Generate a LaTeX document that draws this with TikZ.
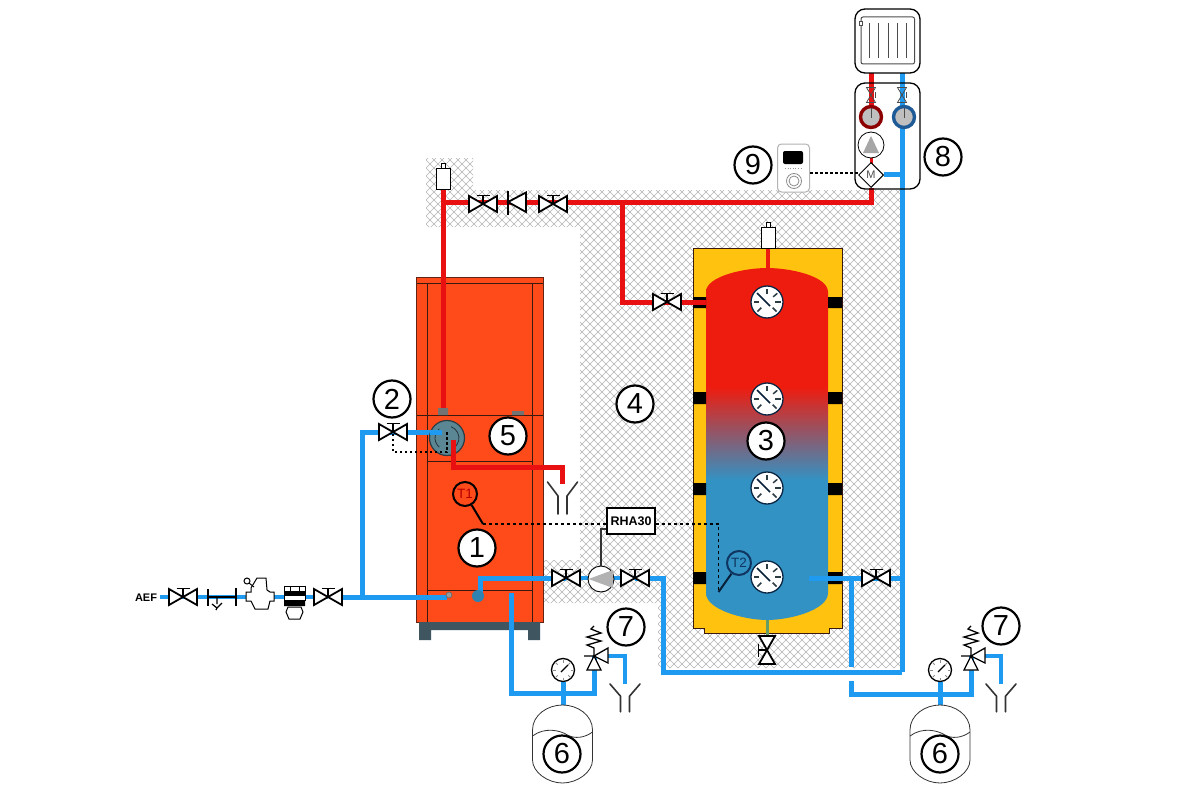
\documentclass[tikz,border=0pt]{standalone}
\usepackage{fontspec}
\setmainfont{Liberation Sans}
\usetikzlibrary{calc,shapes.geometric}
\definecolor{pipeblue}{HTML}{1E9BF0}
\definecolor{pipered}{HTML}{E81010}
\definecolor{boiler}{HTML}{FF4A1A}
\definecolor{boilerline}{HTML}{3A1A10}
\definecolor{feet}{HTML}{3F5560}
\definecolor{insul}{HTML}{FFC20E}
\definecolor{tred}{HTML}{EE1C0F}
\definecolor{tblue}{HTML}{3392C4}
\definecolor{hatchc}{HTML}{B4B4B4}
\definecolor{navy}{HTML}{0F3560}
\definecolor{ringblue}{HTML}{1E5A96}
\definecolor{circul}{HTML}{5B8794}
\pgfdeclareverticalshading{tankshade}{100bp}{color(0bp)=(tblue); color(44.9bp)=(tblue); color(58.1bp)=(tred); color(100bp)=(tred)}
\tikzset{
  x=1pt,y=-1pt,
  blue pipe/.style={draw=pipeblue,line width=5pt,line join=miter},
  blue thin/.style={draw=pipeblue,line width=3.5pt},
  red pipe/.style={draw=pipered,line width=5pt},
  sym/.style={draw=black,line width=1.8pt,line join=miter},
  num/.style={circle,draw=black,line width=2.2pt,fill=white,minimum size=37pt,inner sep=0pt,font=\fontsize{29}{29}\selectfont},
  dotline/.style={draw=black,line width=2pt,dash pattern=on 2.5pt off 2.5pt},
  dashline/.style={draw=black,line width=1.1pt,dash pattern=on 3pt off 3pt},
  hvalve/.pic={\draw[sym,fill=white] (-14,-8)--(14,8)--(14,-8)--(-14,8)--cycle;
    \draw[sym] (0,0)--(0,-8.5) (-6.5,-8.5)--(6.5,-8.5);},
  tinyvalve/.pic={\draw[draw=black!70,line width=.8pt] (-4.5,-7.5)--(4.5,7.5)--(-4.5,7.5)--(4.5,-7.5)--cycle;
    \draw[draw=black!70,line width=.8pt] (4,-2.5)--(4,2.5);},
  vent/.pic={\draw[draw=black,line width=1pt,fill=white] (-7,-21)--(7,-21)--(7,0)--(-7,0)--cycle;
    \draw[draw=black,line width=1pt,fill=white] (-2,-26)--(2,-26)--(2,-21)--(-2,-21)--cycle;},
  thermo/.pic={\draw[draw=navy!70!black,line width=1.3pt,fill=white] (0,0) circle (16);
    \foreach \a in {-90,-40,0,45,135,180}{\draw[draw=feet!70!black,line width=1.5pt] (\a:8) -- (\a:13.5);}
    \draw[draw=navy!60!black,line width=1.6pt] (-10,-9)--(3,4);},
  mano/.pic={\draw[draw=black,line width=1.3pt,fill=white] (0,0) circle (11.5);
    \foreach \a in {0,45,...,315}{\draw[draw=black!45,line width=.8pt] (\a:7.5) -- (\a:10);}
    \draw[draw=black,line width=1.3pt] (-2,2)--(5,-5);},
  funnel/.pic={\draw[draw=black!80,line width=1.6pt,line cap=round] (-15,0)--(-4.5,14)--(-4.5,32) (15,0)--(4.5,14)--(4.5,32);},
  vessel/.pic={\draw[draw=black!80,line width=.8pt,fill=white] (-30,25) .. controls (-30,10) and (-15,0) .. (0,0) .. controls (15,0) and (30,10) .. (30,25) -- (30,55) .. controls (30,67) and (15,78) .. (0,78) .. controls (-15,78) and (-30,67) .. (-30,55) -- cycle;
    \draw[draw=black!80,line width=.8pt] (-30,31) .. controls (-18,22) and (-3,25) .. (5,30) .. controls (12,34) and (22,33) .. (30,27);},
  safety/.pic={\draw[sym,line width=1.3pt,fill=white] (0,0)--(-7,14)--(7,14)--cycle;
    \draw[sym,line width=1.3pt,fill=white] (0,0)--(14,-8)--(14,7)--cycle;
    \draw[sym,line width=1.3pt] (-10,0)--(0,0)--(0,-8)--(-7,-11)--(7,-15)--(-7,-19)--(7,-23)--(-3,-27)--(0,-30);}
}
\begin{document}
\begin{tikzpicture}
\useasboundingbox (0,0) rectangle (1200,800);
\fill[white] (0,0) rectangle (1200,800);

% insulation hatch
\begin{scope}
  \clip (426,158)--(473,158)--(473,190)--(902,190)--(902,668)--(658,668)--(658,603)--(542,603)--(542,560)--(580,560)--(580,227)--(426,227)--cycle;
  \foreach \i in {0,8,...,1100}{
    \draw[hatchc,line width=.45pt] (\i+380,150)--(\i+380-540,690);
    \draw[hatchc,line width=.45pt] (\i-160,150)--(\i-160+540,690);
  }
\end{scope}

% boiler
\fill[boiler] (416.5,277) rectangle (543,622);
\draw[boilerline!80!boiler,line width=.9pt] (416.5,277) rectangle (543,622);
\draw[boilerline,line width=.9pt] (416.5,283)--(543,283) (416.5,415)--(543,415)
  (427,283)--(427,622) (532,283)--(532,622) (427,461)--(532,461) (427,590)--(532,590);
\fill[feet] (419,622) rectangle (431,640) (528,622) rectangle (540,640) (431,622) rectangle (528,630);
\fill[black!55] (438,408) rectangle (448,415) (512,411) rectangle (524,415);

% named connection points
\coordinate (ventA) at (443,189);
\coordinate (boilerRed) at (443,408);
\coordinate (redEnd) at (871,188);
\coordinate (redTee) at (622,202);
\coordinate (tankRed) at (706,302);
\coordinate (v1) at (483,204);
\coordinate (v2) at (553,204);
\coordinate (chk) at (508,202);
\coordinate (v3) at (667,302);
\coordinate (v4) at (393,432);
\coordinate (v5) at (566,578);
\coordinate (v6) at (635,578);
\coordinate (v7) at (876,578);
\coordinate (v8) at (767,650);
\coordinate (vA) at (183,597);
\coordinate (vB) at (328,597);
\coordinate (circ) at (447,438);
\coordinate (riseL) at (362,597);
\coordinate (boilerIn) at (447,597);
\coordinate (boilerOut) at (480,596);
\coordinate (boilerExp) at (511,593);
\coordinate (loopC) at (663,672);
\coordinate (retTop) at (902,73);
\coordinate (tankBlue) at (809,578);
\coordinate (teeR) at (851,578);
\coordinate (expL) at (563,693);
\coordinate (expR) at (940,694);
\coordinate (safeL) at (594,656);
\coordinate (safeR) at (971,656);
\coordinate (funL) at (625,684);
\coordinate (funR) at (1001,684);
\coordinate (funC) at (562.5,482);

% tank
\draw[boilerline,line width=1pt,fill=insul] (693,248)--(842,248)--(842,628)--(829,628)--(829,633)--(704,633)--(704,628)--(693,628)--cycle;
\draw[tred,line width=3.5pt] (768,248)--(768,270);
\draw[draw=green!35!black!60,line width=3pt] (767,618)--(767,636);
\shade[shading=tankshade] (706,292) .. controls (706,276) and (745,268) .. (767,268) .. controls (790,268) and (828,276) .. (828,292) -- (828,593) .. controls (828,610) and (790,620) .. (767,620) .. controls (745,620) and (706,610) .. (706,593) -- cycle;
\fill[black] (693,297) rectangle (706,308) (828,297) rectangle (842,308)
  (693,392) rectangle (706,404) (828,392) rectangle (842,404)
  (693,483) rectangle (706,495) (828,483) rectangle (842,495)
  (693,572) rectangle (706,584) (828,572) rectangle (842,584);

% red pipes
\draw[red pipe] (ventA)--(boilerRed);
\draw[red pipe] (ventA|-redTee)--(redTee)--(871,202)--(redEnd);
\draw[red pipe] (redTee)|-(tankRed);
\draw[red pipe] (871,73)--(871,110);
\draw[draw=pipered,line width=3pt] (871,155)--(871,165);
\draw[red pipe] (453,440)|-(562,467)--(562,484);

% blue pipes
\draw[blue pipe] (riseL)|-(v4);
\draw[blue pipe] (v4)--(442,432);
\draw[blue thin] (160,597)--(vB);
\draw[blue pipe] (342,597)--(boilerIn);
\draw[blue pipe] (boilerOut)|-(v5);
\draw[blue thin] (v5)--(v6);
\draw[blue pipe] (v6)-|(loopC)|-(902,672);
\draw[blue pipe] (retTop)--(902,672);
\draw[blue pipe] (884,174)--(902,174);
\draw[blue pipe] (tankBlue)--(902,578);
\draw[blue pipe] (teeR)--(851,667);
\draw[blue pipe] (851,681)--(851,694)--(expR);
\draw[blue pipe] (expR)-|(safeR);
\draw[blue pipe] (boilerExp)|-(expL);
\draw[blue pipe] (expL)-|(safeL);
\draw[blue pipe] (563,682)--(563,705);
\draw[blue pipe] (940,682)--(940,705);
\draw[blue thin] (608,656)-|(funL);
\draw[blue thin] (985,656)-|(funR);
\fill[tblue!90!black] (478,596) circle (6);
\draw[draw=black!60,fill=black!40,line width=.7pt] (449,595) circle (3);

% circulator
\fill[circul] (circ) circle (17.5);
\draw[draw=feet!70!black,line width=1.2pt] (circ) circle (17.5);
\draw[draw=feet!60!black,line width=.8pt] (447,438) ++(60:12) arc (60:-70:12);
\draw[draw=feet!60!black,line width=.8pt] (447,438) ++(130:12) arc (130:230:12);
\draw[blue pipe] (430,432)--(442,432);
\draw[red pipe] (453,440)--(453,456);
\draw[dotline] (447,432)--(447,452)-|(v4);

% valves etc.
\pic at (v1) {hvalve};
\pic at (v2) {hvalve};
\pic at (v3) {hvalve};
\pic at (v4) {hvalve};
\pic at (v5) {hvalve};
\pic at (v6) {hvalve};
\pic at (v7) {hvalve};
\pic at (vA) {hvalve};
\pic at (vB) {hvalve};
\pic[rotate=90] at (v8) {hvalve};
\draw[sym,fill=white] (508,202)--(526,192.5)--(526,212)--cycle;
\draw[sym,line width=1.8pt] (508,191)--(508,215);
\pic at (ventA) {vent};
\pic at (768,248) {vent};

% AEF assembly
\node[font=\bfseries\fontsize{11}{11}\selectfont,inner sep=0pt] (aef) at (146,598) {AEF};
\draw[sym] (208,589)--(208,606) (236,588)--(236,606);
\draw[sym] (208,597)--(236,597);
\draw[sym,line width=1.2pt] (217,598)--(217,604) (212,604)--(217,608)--(222,603) (217,608)--(216,610);
\draw[sym,line width=1pt,fill=white] (246,592)--(251,592)--(251,588)--(257,578)--(266,578)--(267,590)--(270,592)--(274,592)--(274,601)--(270,601)--(268,609)--(255,609)--(251,601)--(246,601)--cycle;
\draw[draw=black,line width=1pt,fill=white] (247,581) circle (3);
\draw[draw=black,line width=1pt] (249,583)--(254,587);
\draw[draw=black,line width=1pt,fill=white] (284,586) rectangle (305,594);
\draw[draw=black,line width=1pt,fill=white] (288,607)--(301,607)--(303,612)--(300,619)--(289,619)--(286,612)--cycle;
\fill[black] (284,591) rectangle (305,595) (284,600) rectangle (305,606);
\fill[white] (284,595) rectangle (305,600);
\draw[draw=black,line width=1pt] (284,595) rectangle (305,600);
\draw[draw=black,line width=.8pt] (290,586)--(290,591) (299,586)--(299,591);

% loop pump
\node[circle,draw=black,line width=.9pt,fill=white,minimum size=26pt,inner sep=0pt] (pumpA) at (601,579) {};
\fill[black!30] (588.5,579)--(613,570)--(613,588)--cycle;
\draw[draw=black!80,line width=1.1pt] (pumpA.north)|-(607,529);

% thermometers
\pic at (767,302) {thermo};
\pic at (767,399) {thermo};
\pic at (767,488) {thermo};
\pic at (767,577) {thermo};

% control lines
\node[draw=black,line width=1.3pt,fill=white,minimum width=48pt,minimum height=26pt,inner sep=0pt,font=\bfseries\fontsize{12.5}{13}\selectfont] (rha) at (631,521) {RHA30};
\coordinate (t1end) at (483,524);
\coordinate (t2end) at (718.5,592);
\draw[dashline] (t1end)--(rha.west|-t1end);
\draw[dashline] (rha.east|-t1end)-|(t2end);
\node[circle,draw=black,line width=2pt,minimum size=24pt,inner sep=0pt,text=red!70!black,font=\fontsize{13.5}{14}\selectfont] (t1) at (465,494) {T1};
\draw[draw=black,line width=2pt] (t1)--(t1end);
\node[circle,draw=navy,line width=2pt,minimum size=24pt,inner sep=0pt,text=navy,font=\fontsize{13.5}{14}\selectfont] (t2) at (739,563) {T2};
\draw[draw=navy!60!black,line width=2pt] (t2)--(t2end);

% funnels, safety, manometers, vessels
\pic at (funC) {funnel};
\pic[yscale=.87] at (funL) {funnel};
\pic[yscale=.87] at (funR) {funnel};
\pic at (safeL) {safety};
\pic at (safeR) {safety};
\pic at (563,670) {mano};
\pic at (940,670) {mano};
\pic at (562.5,705) {vessel};
\pic at (940,705) {vessel};

% radiator and group
\draw[draw=black,line width=1.3pt,fill=white,rounded corners=10pt] (855,9) rectangle (920,73);
\draw[draw=black!70,line width=1pt,rounded corners=2pt] (861,17) rectangle (914.5,64);
\foreach \x in {869,878,888,897,906} \draw[draw=black!70,line width=1pt] (\x,23)--(\x,58);
\draw[draw=black!70,line width=.7pt,fill=white] (859,21) rectangle (862,25);
\draw[draw=black,line width=1.3pt,rounded corners=10pt] (855,83) rectangle (920,189);
\pic at (871,95) {tinyvalve};
\pic at (902,95) {tinyvalve};
\draw[draw=red!55!black,line width=3.4pt,fill=black!25] (871,117) circle (10.5);
\draw[draw=ringblue,line width=3.4pt,fill=black!25] (904,117) circle (10.5);
\draw[draw=black!70,line width=1pt] (871,108)--(871,118) (904,108)--(904,118);
\node[circle,draw=black,line width=.8pt,fill=white,minimum size=26pt,inner sep=0pt] (pumpB) at (871,145) {};
\fill[black!35] (871,136)--(879,153)--(863,153)--cycle;
\node[diamond,aspect=1,draw=black,line width=1pt,fill=white,minimum size=25pt,inner sep=0pt] (mv) at (871,175) {};
\node[font=\fontsize{11}{11}\selectfont,text=black!70,inner sep=0pt] (mtxt) at (871,175) {M};

% controller 9
\draw[draw=black!30,line width=1pt,fill=white,rounded corners=4pt] (777.5,144) rectangle (809.5,192);
\fill[black,rounded corners=2pt] (783,151) rectangle (803,164);
\draw[draw=black!40,line width=.6pt,dotted] (785,168)--(802,168);
\draw[draw=black!45,line width=.8pt] (794,181) circle (7.5) (794,181) circle (5);
\coordinate (ctlOut) at (810,173);
\draw[dotline] (ctlOut)--(mv.west|-ctlOut);

% numbered labels
\node[num] (n1) at (477,548) {1};
\node[num] (n2) at (392,399) {2};
\node[num] (n3) at (766,441) {3};
\node[num] (n4) at (635,404) {4};
\node[num] (n5) at (508,436) {5};
\node[num] (n6a) at (562,754) {6};
\node[num] (n6b) at (940,754) {6};
\node[num] (n7a) at (626,627) {7};
\node[num] (n7b) at (1001,626) {7};
\node[num] (n8) at (943,157) {8};
\node[num] (n9) at (753,165) {9};
\end{tikzpicture}
\end{document}
